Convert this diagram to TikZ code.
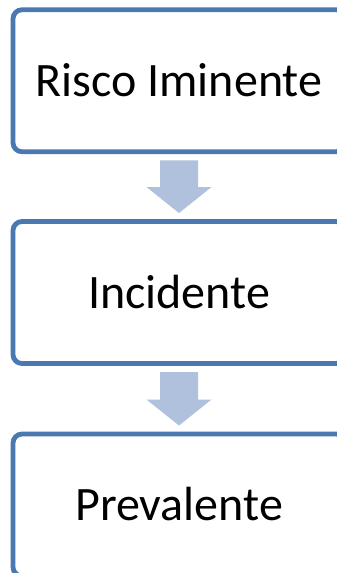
\documentclass[tikz,border=0pt]{standalone}
\usepackage{fontspec}
\setmainfont{Carlito}
\usetikzlibrary{calc}
\definecolor{boxline}{HTML}{4A78B0}
\definecolor{arrowfill}{HTML}{B0C1DD}
\tikzset{
  stage/.style={draw=boxline, line width=4.8pt, rounded corners=9pt, fill=white,
    minimum width=332pt, minimum height=142pt, inner sep=0pt, outer sep=0pt,
    text height=31pt, text depth=0pt, font=\fontsize{48}{52}\selectfont, text=black},
  blockarrow/.style={fill=arrowfill, draw=none}
}
\begin{document}
\begin{tikzpicture}[x=1pt,y=-1pt]
\useasboundingbox (0,0) rectangle (337,573);
\clip (0,0) rectangle (337,573);
\fill[white] (0,0) rectangle (337,573);
\node[stage] (b1) at (179,80.75) {Risco Iminente};
\node[stage] (b2) at (179,292.5) {Incidente};
\node[stage] (b3) at (179,505) {Prevalente};
\foreach \a/\b in {b1/b2, b2/b3}{
  \fill[blockarrow] ($(\a.south)+(-19,8.5)$) -- ($(\a.south)+(19,8.5)$)
    -- ($(\b.north)+(19,-34.5)$) -- ($(\b.north)+(32.5,-34.5)$)
    -- ($(\b.north)+(0,-8.5)$) -- ($(\b.north)+(-32.5,-34.5)$)
    -- ($(\b.north)+(-19,-34.5)$) -- cycle;
}
\end{tikzpicture}
\end{document}
